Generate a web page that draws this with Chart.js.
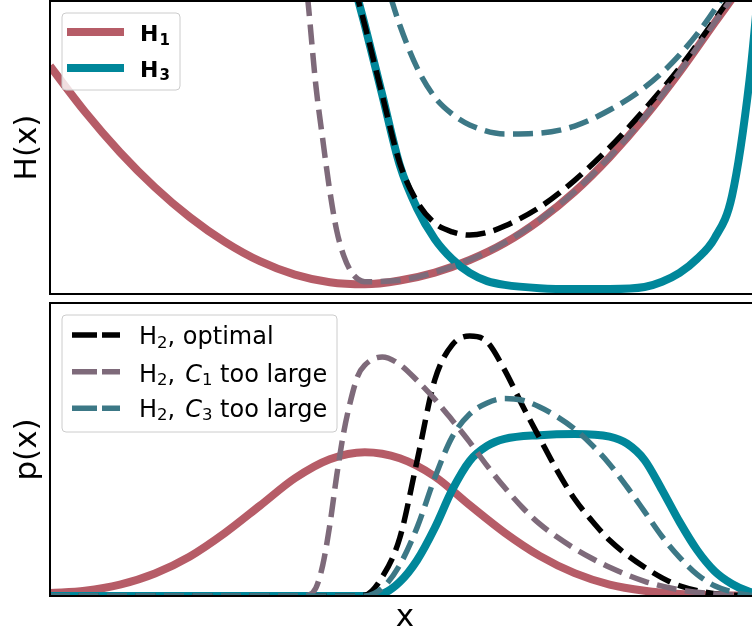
<!DOCTYPE html>
<html>
<head>
<meta charset="utf-8">
<script src="https://cdn.jsdelivr.net/npm/chart.js@4.4.0/dist/chart.umd.min.js"></script>
<style>
  html, body { margin: 0; padding: 0; background: #fff; overflow: hidden; width: 752px; height: 637px; }
  #wrap { position: relative; width: 780px; height: 637px; }
  canvas { position: absolute; left: 0; }
  #topChart { top: 0; }
  #bottomChart { top: 300px; }
</style>
</head>
<body>
<div id="wrap">
  <canvas id="topChart" width="780" height="300"></canvas>
  <canvas id="bottomChart" width="780" height="337"></canvas>
</div>
<script>
// x runs 0 .. X_MAX across both panels (right edge falls outside the picture)
const X_MAX = 10.15;

// --- top panel: H(x) ---
const h1X = [0, 0.5, 1, 1.5, 2, 2.5, 3, 3.5, 4, 4.5, 5, 5.5, 6, 6.5, 7, 7.5, 8, 8.5, 9, 9.5, 10, 10.15];
const h1Y = [7.78, 6.22, 4.84, 3.64, 2.62, 1.78, 1.12, 0.66, 0.40, 0.33, 0.46, 0.73, 1.16, 1.74, 2.52, 3.49, 4.67, 6.03, 7.57, 9.25, 10.93, 11.5];

const h3X = [4.25, 4.5, 4.75, 5, 5.25, 5.5, 5.75, 6, 6.25, 6.5, 7, 7.5, 8, 8.5, 8.75, 9, 9.25, 9.5, 9.75, 10, 10.15];
const h3Y = [11.4, 9.18, 6.79, 4.40, 2.91, 1.88, 1.19, 0.72, 0.44, 0.31, 0.20, 0.17, 0.17, 0.24, 0.42, 0.72, 1.20, 1.90, 3.35, 7.30, 11.0];

const h2OptX = [4.25, 4.5, 4.75, 5, 5.25, 5.5, 5.75, 6, 6.25, 6.5, 7, 7.5, 8, 8.5, 9, 9.5, 10];
const h2OptY = [11.4, 9.18, 6.79, 4.47, 3.14, 2.42, 2.12, 2.01, 2.10, 2.32, 2.96, 3.88, 5.00, 6.30, 7.72, 9.35, 11.06];

const h2C1X = [3.6, 3.7, 3.8, 3.9, 4.0, 4.1, 4.2, 4.3, 4.4, 4.5, 5, 5.5, 6, 6.5, 7, 7.5, 8, 8.5, 9, 9.5, 10];
const h2C1Y = [12.1, 9.69, 7.13, 5.26, 3.52, 2.15, 1.30, 0.78, 0.51, 0.42, 0.47, 0.74, 1.17, 1.75, 2.53, 3.50, 4.68, 6.04, 7.58, 9.26, 10.94];

const h2C3X = [4.75, 5, 5.25, 5.5, 5.75, 6, 6.5, 7, 7.5, 8, 8.5, 9, 9.5, 10];
const h2C3Y = [11.06, 9.18, 7.71, 6.72, 6.14, 5.77, 5.46, 5.49, 5.73, 6.28, 7.05, 8.16, 9.70, 11.74];

// --- bottom panel: p(x) ---
const p1X = [0, 0.5, 1, 1.5, 2, 2.5, 3, 3.5, 4, 4.5, 5, 5.5, 6, 6.5, 7, 7.5, 8, 8.5, 9, 9.5, 10, 10.15];
const p1Y = [0.010, 0.018, 0.039, 0.077, 0.135, 0.215, 0.308, 0.402, 0.467, 0.491, 0.470, 0.408, 0.310, 0.216, 0.137, 0.078, 0.039, 0.018, 0.007, 0.003, 0.001, 0];

const p3X = [0, 4.5, 4.75, 5, 5.25, 5.5, 5.75, 6, 6.25, 6.5, 7, 7.5, 8, 8.25, 8.5, 8.75, 9, 9.25, 9.5, 9.75, 10, 10.15];
const p3Y = [0, 0, 0.007, 0.048, 0.123, 0.232, 0.362, 0.461, 0.512, 0.536, 0.549, 0.553, 0.544, 0.520, 0.464, 0.362, 0.253, 0.157, 0.085, 0.041, 0.014, 0.005];

const p2OptX = [0, 4.25, 4.5, 4.75, 5, 5.25, 5.5, 5.75, 6, 6.25, 6.5, 6.75, 7, 7.25, 7.5, 7.75, 8, 8.25, 8.5, 8.75, 9, 9.5, 10, 10.15];
const p2OptY = [0, 0, 0.003, 0.065, 0.198, 0.464, 0.737, 0.857, 0.887, 0.867, 0.771, 0.652, 0.539, 0.428, 0.331, 0.256, 0.190, 0.140, 0.098, 0.062, 0.035, 0.008, 0.001, 0];

const p2C1X = [0, 3.6, 3.7, 3.8, 3.9, 4.0, 4.1, 4.2, 4.3, 4.4, 4.5, 4.75, 5, 5.25, 5.5, 5.75, 6, 6.25, 6.5, 6.75, 7, 7.25, 7.5, 7.75, 8, 8.5, 9, 9.5, 10, 10.15];
const p2C1Y = [0, 0, 0.003, 0.027, 0.106, 0.242, 0.413, 0.560, 0.669, 0.751, 0.788, 0.816, 0.790, 0.735, 0.672, 0.600, 0.525, 0.444, 0.370, 0.303, 0.246, 0.201, 0.162, 0.128, 0.098, 0.050, 0.021, 0.007, 0.001, 0];

const p2C3X = [0, 4.5, 4.75, 5, 5.25, 5.5, 5.75, 6, 6.25, 6.5, 6.75, 7, 7.25, 7.5, 7.75, 8, 8.25, 8.5, 8.75, 9, 9.25, 9.5, 9.75, 10, 10.15];
const p2C3Y = [0, 0, 0.027, 0.106, 0.235, 0.403, 0.543, 0.621, 0.659, 0.674, 0.668, 0.645, 0.612, 0.570, 0.515, 0.450, 0.372, 0.288, 0.203, 0.132, 0.074, 0.035, 0.014, 0.003, 0];

const RED = '#b65c67';
const TEAL = '#00879a';
const MAUVE = '#7e6a7a';
const TEAL_D = '#3c7886';
const FONT = 'DejaVu Sans';

function pts(xs, ys) {
  return xs.map((x, i) => ({ x: x, y: ys[i] }));
}

function line(label, xs, ys, color, dashed, order) {
  return {
    label: label,
    data: pts(xs, ys),
    borderColor: color,
    borderWidth: dashed ? 5.5 : 8,
    borderDash: dashed ? [20, 8.5] : [],
    pointRadius: 0,
    cubicInterpolationMode: 'monotone',
    fill: false,
    clip: 0,
    order: order
  };
}

// frame round the plot area + legend drawn by hand (subscripts, italic C)
function framePlugin(legend) {
  return {
    id: 'frame',
    afterDraw(chart) {
      const ctx = chart.ctx, a = chart.chartArea;
      ctx.save();
      ctx.strokeStyle = '#000';
      ctx.lineWidth = 2;
      ctx.strokeRect(a.left, a.top, a.right - a.left, a.bottom - a.top);
      if (legend) drawLegend(ctx, legend);
      ctx.restore();
    }
  };
}

function drawLegend(ctx, lg) {
  const b = lg.box;
  ctx.beginPath();
  ctx.roundRect(b.x, b.y, b.w, b.h, 4);
  ctx.fillStyle = 'rgba(255,255,255,0.8)';
  ctx.fill();
  ctx.strokeStyle = '#cccccc';
  ctx.lineWidth = 1;
  ctx.stroke();
  lg.rows.forEach(r => {
    ctx.beginPath();
    ctx.setLineDash(r.dash || []);
    ctx.strokeStyle = r.color;
    ctx.lineWidth = r.width;
    ctx.moveTo(lg.x0, r.ly);
    ctx.lineTo(lg.x1, r.ly);
    ctx.stroke();
    ctx.setLineDash([]);
    let x = lg.tx;
    ctx.fillStyle = '#000';
    ctx.textBaseline = 'alphabetic';
    r.parts.forEach(p => {
      x += p.gap || 0;
      ctx.font = p.font;
      ctx.fillText(p.t, x, r.ty + (p.dy || 0));
      x += ctx.measureText(p.t).width;
    });
  });
}

const B = 'bold 22px ' + FONT, BS = 'bold 15px ' + FONT;
const topLegend = {
  box: { x: 62, y: 13, w: 118, h: 77 },
  x0: 67, x1: 124, tx: 140,
  rows: [
    { color: RED, width: 8, ly: 32, ty: 41,
      parts: [{ t: 'H', font: B }, { t: '1', font: BS, dy: 3.5, gap: 1 }] },
    { color: TEAL, width: 8, ly: 68, ty: 76.5,
      parts: [{ t: 'H', font: B }, { t: '3', font: BS, dy: 3.5, gap: 1 }] }
  ]
};

const N = '24px ' + FONT, S = '16.5px ' + FONT, I = 'italic 24px ' + FONT;
const bottomLegend = {
  box: { x: 62, y: 15, w: 275, h: 117 },
  x0: 72, x1: 120, tx: 139,
  rows: [
    { color: '#000', width: 5.5, dash: [25, 5], ly: 35, ty: 44.3,
      parts: [{ t: 'H', font: N }, { t: '2', font: S, dy: 3.5 }, { t: ', optimal', font: N }] },
    { color: MAUVE, width: 5.5, dash: [25, 5], ly: 71.7, ty: 81.5,
      parts: [{ t: 'H', font: N }, { t: '2', font: S, dy: 3.5 }, { t: ',', font: N }, { t: 'C', font: I, gap: 10 },
              { t: '1', font: S, dy: 3.5 }, { t: ' too large', font: N }] },
    { color: TEAL_D, width: 5.5, dash: [25, 5], ly: 108.3, ty: 116.5,
      parts: [{ t: 'H', font: N }, { t: '2', font: S, dy: 3.5 }, { t: ',', font: N }, { t: 'C', font: I, gap: 10 },
              { t: '3', font: S, dy: 3.5 }, { t: ' too large', font: N }] }
  ]
};

const axisTitle = (text, pad) => ({
  display: true, text: text, color: '#000',
  font: { family: FONT, size: 31 }, padding: pad
});

new Chart(document.getElementById('topChart'), {
  type: 'line',
  data: {
    datasets: [
      line('H1', h1X, h1Y, RED, false, 5),
      line('H3', h3X, h3Y, TEAL, false, 4),
      line('H2, optimal', h2OptX, h2OptY, '#000', true, 3),
      line('H2, C1 too large', h2C1X, h2C1Y, MAUVE, true, 2),
      line('H2, C3 too large', h2C3X, h2C3Y, TEAL_D, true, 1)
    ]
  },
  options: {
    responsive: false,
    animation: false,
    layout: { padding: { top: 1, right: 20, bottom: 6, left: 0 } },
    plugins: { legend: { display: false }, tooltip: { enabled: false } },
    scales: {
      x: { type: 'linear', min: 0, max: X_MAX, display: false },
      y: {
        min: 0, max: 10,
        grid: { display: false }, border: { display: false }, ticks: { display: false },
        title: axisTitle('H(x)', { top: 9, bottom: 0 }),
        afterFit: s => { s.width = 50; }
      }
    }
  },
  plugins: [framePlugin(topLegend)]
});

new Chart(document.getElementById('bottomChart'), {
  type: 'line',
  data: {
    datasets: [
      line('p1', p1X, p1Y, RED, false, 5),
      line('p3', p3X, p3Y, TEAL, false, 4),
      line('H2, optimal', p2OptX, p2OptY, '#000', true, 3),
      line('H2, C1 too large', p2C1X, p2C1Y, MAUVE, true, 2),
      line('H2, C3 too large', p2C3X, p2C3Y, TEAL_D, true, 1)
    ]
  },
  options: {
    responsive: false,
    animation: false,
    layout: { padding: { top: 3, right: 20, bottom: 0, left: 0 } },
    plugins: { legend: { display: false }, tooltip: { enabled: false } },
    scales: {
      x: {
        type: 'linear', min: 0, max: X_MAX,
        grid: { display: false }, border: { display: false }, ticks: { display: false },
        title: axisTitle('x', { top: 0, bottom: 0 }),
        afterFit: s => { s.height = 41; }
      },
      y: {
        min: 0, max: 1,
        grid: { display: false }, border: { display: false }, ticks: { display: false },
        title: axisTitle('p(x)', { top: 9, bottom: 0 }),
        afterFit: s => { s.width = 50; }
      }
    }
  },
  plugins: [framePlugin(bottomLegend)]
});
</script>
</body>
</html>
